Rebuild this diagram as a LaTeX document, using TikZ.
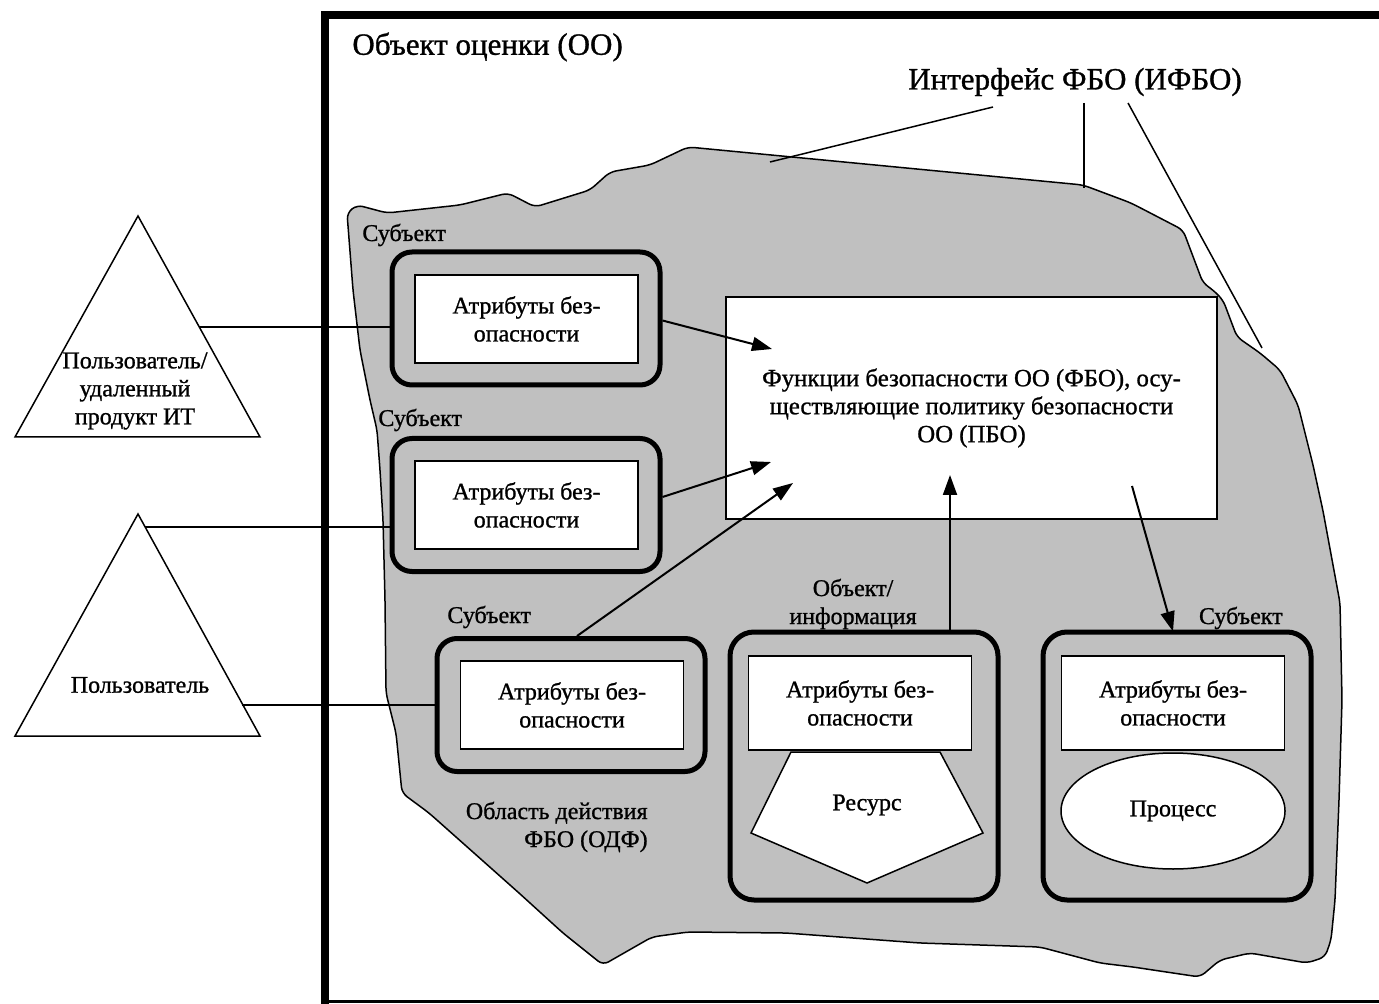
\documentclass[tikz,border=0pt]{standalone}
\usepackage{fontspec}
\setmainfont{Liberation Serif}[FakeBold=1]
\usetikzlibrary{arrows.meta,calc,shapes.geometric}
\definecolor{blobgray}{RGB}{192,192,192}
\begin{document}
\begin{tikzpicture}[x=0.5pt,y=-0.5pt,
  small/.style={font=\fontsize{12}{14}\selectfont, align=center, inner sep=0pt},
  big/.style={font=\fontsize{15.5}{18}\selectfont, inner sep=0pt},
  subj/.style={draw, line width=2.5pt, rounded corners=10pt, fill=blobgray, inner sep=0pt, minimum width=134pt, minimum height=66.5pt},
  objbox/.style={draw, line width=2.5pt, rounded corners=12pt, fill=blobgray, inner sep=0pt, minimum width=134pt, minimum height=134pt},
  attr/.style={draw, line width=0.9pt, fill=white, small, minimum width=111.5pt, minimum height=44pt},
  attrb/.style={draw, line width=0.9pt, fill=white, small, minimum width=111.5pt, minimum height=47pt},
  arr/.style={line width=1pt, -{Triangle[length=10pt,width=7pt]}},
  thinline/.style={line width=0.75pt}]
\fill[white] (0,0) rectangle (1379,1004);
\useasboundingbox (0,0) rectangle (1379,1004);

% outer frame
\draw[line width=4pt] (325,1010) -- (325,15) -- (1385,15);
\draw[line width=1.5pt] (325,1001) -- (1385,1001);
\node[big, anchor=west] (oo) at (352,47) {Объект оценки (ОО)};

% gray blob (TSC)
\draw[thinline, fill=blobgray, rounded corners=3pt]
  (347,213) -- (357,205) -- (387,213) -- (460,205) -- (508,193) -- (535,207)
  -- (590,190) -- (610,172) -- (650,165) -- (688,147) -- (1083,185)
  -- (1131,203) -- (1183,230) -- (1203,283) -- (1213,290) -- (1223,300)
  -- (1237,337) -- (1260,353) -- (1280,370) -- (1298,405) -- (1313,465)
  -- (1323,511) -- (1340,603) -- (1342,700) -- (1339,800) -- (1335,900)
  -- (1331,940) -- (1325,957) -- (1307,963) -- (1250,953) -- (1220,960)
  -- (1200,977) -- (1173,973) -- (1133,967) -- (1100,963) -- (1040,947)
  -- (920,943) -- (786,933) -- (688,932) -- (652,937) -- (603,965)
  -- (563,933) -- (519,893) -- (474,853) -- (429,813) -- (402,793)
  -- (396,733) -- (386,693) -- (385,600) -- (383,520) -- (380,470)
  -- (377,430) -- (370,400) -- (360,350) -- (353,290) -- cycle;

% interface label and leaders
\node[big] (ifbo) at (1075,82) {Интерфейс ФБО (ИФБО)};
\coordinate (l1s) at (993,107);
\coordinate (l1e) at (770,162);
\coordinate (l2s) at (1084,103);
\coordinate (l2e) at (1084,188);
\coordinate (l3s) at (1128,103);
\coordinate (l3e) at (1262,348);
\draw[thinline] (l1s) -- (l1e);
\draw[thinline] (l2s) -- (l2e);
\draw[thinline] (l3s) -- (l3e);

% FBO box
\node[draw, fill=white, line width=1pt, minimum width=245.5pt, minimum height=111pt,
      small, font=\fontsize{12.4}{14}\selectfont] (fbo) at (971.5,408)
  {Функции безопасности ОО (ФБО), осу-\\ществляющие политику безопасности\\ОО (ПБО)};

% subject boxes
\node[subj] (s1) at (526,318.5) {};
\node[attr] (a1) at (526.5,319) {Атрибуты без-\\опасности};
\node[small, anchor=west] (lb1) at (362,235) {Субъект};

\node[subj] (s2) at (526,505) {};
\node[attr] (a2) at (526.5,505) {Атрибуты без-\\опасности};
\node[small, anchor=west] (lb2) at (378,420) {Субъект};

\node[subj] (s3) at (571,705) {};
\node[attr] (a3) at (572,705) {Атрибуты без-\\опасности};
\node[small, anchor=west] (lb3) at (447,617) {Субъект};

\node[small, align=right, anchor=east] (odf) at (648,827) {Область действия\\ФБО (ОДФ)};

% object box
\node[objbox] (s4) at (864,766) {};
\node[attrb] (a4) at (860,703) {Атрибуты без-\\опасности};
\node[small] (lb4) at (853,604) {Объект/\\информация};
\draw[thinline, fill=white] (791,752) -- (940,752) -- (983,833) -- (867,883) -- (751,833) -- cycle;
\node[small] (res) at (867,805) {Ресурс};

% process subject box
\node[objbox] (s5) at (1177,766) {};
\node[attrb] (a5) at (1173,703) {Атрибуты без-\\опасности};
\node[small, anchor=east] (lb5) at (1283,618) {Субъект};
\node[draw, thinline, ellipse, fill=white, inner sep=0pt, minimum width=112pt, minimum height=58pt, small] (proc) at (1173,811) {Процесс};

% users (triangles)
\coordinate (t1a) at (138,216);
\coordinate (t1b) at (15,437);
\coordinate (t1c) at (260,437);
\draw[thinline, fill=white] (t1a) -- (t1b) -- (t1c) -- cycle;
\node[small] (u1) at (135,391) {Пользователь/\\удаленный\\продукт ИТ};

\coordinate (t2a) at (138,514);
\coordinate (t2b) at (15,736);
\coordinate (t2c) at (260,736);
\draw[thinline, fill=white] (t2a) -- (t2b) -- (t2c) -- cycle;
\node[small] (u2) at (140,685) {Пользователь};

% user connectors
\coordinate (c1) at (199,327);
\coordinate (c2) at (145,527);
\coordinate (c3) at (242,705);
\draw[thinline] (c1) -- (c1 -| s1.west);
\draw[thinline] (c2) -- (c2 -| s2.west);
\draw[thinline] (c3) -- (c3 -| s3.west);

% arrows into / out of FBO
\coordinate (p1) at (772,349);
\coordinate (p2) at (771,462);
\coordinate (p3) at (793,483);
\coordinate (p4) at (950,475);
\coordinate (p5) at (1132,486);
\draw[arr] ($(s1.east)+(0,2)$) -- (p1);
\draw[arr] ($(s2.east)+(0,-8)$) -- (p2);
\draw[arr] ($(s3.north)+(6,0)$) -- (p3);
\draw[arr] (p4 |- s4.north) -- (p4);
\draw[arr] (p5) -- ($(s5.north)+(-4,2)$);
\end{tikzpicture}
\end{document}
